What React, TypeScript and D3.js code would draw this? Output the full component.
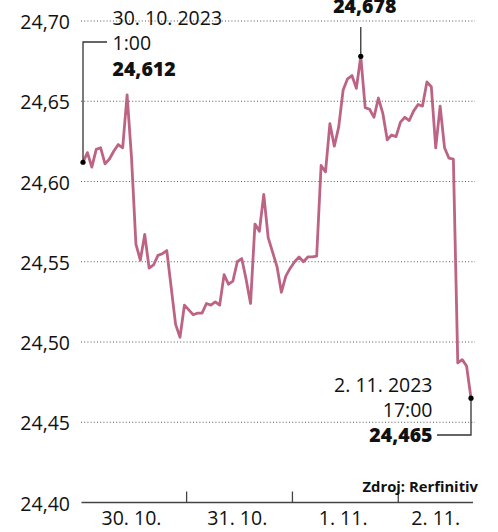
import React from 'react';
import * as d3 from 'd3';

// hourly EUR/CZK rate, 30. 10. 2023 1:00 -> 2. 11. 2023 17:00
const rates = [
  24.612, 24.618, 24.609, 24.620, 24.621, 24.611, 24.614, 24.619, 24.623, 24.621,
  24.654, 24.615, 24.561, 24.551, 24.567, 24.546, 24.548, 24.554, 24.555, 24.557,
  24.534, 24.511, 24.503, 24.523, 24.520, 24.517, 24.518, 24.518, 24.524, 24.523,
  24.525, 24.523, 24.542, 24.536, 24.538, 24.550, 24.552, 24.539, 24.524, 24.5735,
  24.569, 24.592, 24.565, 24.556, 24.547, 24.531, 24.541, 24.546, 24.550, 24.553,
  24.550, 24.553, 24.553, 24.5535, 24.610, 24.606, 24.636, 24.622, 24.634, 24.657,
  24.664, 24.666, 24.658, 24.678, 24.646, 24.645, 24.640, 24.652, 24.6425, 24.626,
  24.629, 24.628, 24.637, 24.640, 24.638, 24.644, 24.648, 24.647, 24.662, 24.659,
  24.621, 24.647, 24.621, 24.6145, 24.614, 24.487, 24.489, 24.485, 24.465,
];
const hours = rates.map((_, i) => i + 1);

const yTicks = [24.4, 24.45, 24.5, 24.55, 24.6, 24.65, 24.7];
const dayLabels = ['30. 10.', '31. 10.', '1. 11.', '2. 11.'];
const dayStarts = [1, 25, 49, 73];
const dayBreaks = [24.5, 48.5, 72.5];

const startLabel = ['30. 10. 2023', '1:00', '24,612'];
const peakLabel = '24,678';
const endLabel = ['2. 11. 2023', '17:00', '24,465'];
const source = 'Zdroj: Rerfinitiv';

const FONT = '"Open Sans", sans-serif';
const LINE = '#bd6384';
const INK = '#111';
const fmt = (v: number) => d3.format('.2f')(v).replace('.', ',');

export default function App() {
  const x = d3.scaleLinear().domain([1, 89]).range([83, 471]);
  const y = d3.scaleLinear().domain([24.4, 24.7]).range([502.5, 21]);

  const line = d3.line<number>()
    .x((_, i) => x(hours[i]))
    .y(d => y(d))
    .curve(d3.curveLinear);

  const last = rates.length - 1;
  const peakIdx = d3.maxIndex(rates);
  const sx = x(hours[0]), sy = y(rates[0]);
  const px = x(hours[peakIdx]), py = y(rates[peakIdx]);
  const ex = x(hours[last]), ey = y(rates[last]);

  return (
    <svg width={498} height={532} style={{ position: 'absolute', left: 0, top: 0 }} fontFamily={FONT}>
      <rect width={498} height={532} fill="#fff" />

      {/* grid */}
      {yTicks.slice(1).map(t => (
        <line key={t} x1={81} x2={475} y1={y(t)} y2={y(t)}
          stroke="#555" strokeWidth={1} strokeDasharray="1 2.2" />
      ))}
      {yTicks.map(t => (
        <text key={'l' + t} x={70} y={y(t) + 8} textAnchor="end" fontSize={19.5} fill={INK}>{fmt(t)}</text>
      ))}

      {/* x axis */}
      <line x1={81.5} x2={473} y1={y(24.4)} y2={y(24.4)} stroke="#444" strokeWidth={1.5} />
      {dayBreaks.map(h => (
        <line key={h} x1={x(h)} x2={x(h)} y1={y(24.4)} y2={y(24.4) - 11} stroke="#444" strokeWidth={1.3} />
      ))}
      {dayLabels.map((d, i) => {
        const s = dayStarts[i];
        const e = i < dayStarts.length - 1 ? dayStarts[i + 1] - 1 : hours[last];
        const mid = e - s >= 23 ? s + 11 : (s + e) / 2;
        return (
          <text key={d} x={x(mid)} y={525} textAnchor="middle" fontSize={19.5} fill={INK}>{d}</text>
        );
      })}

      <text x={478} y={492} textAnchor="end" fontSize={14.8} fontWeight={700} fill={INK}>{source}</text>

      {/* series */}
      <path d={line(rates) ?? ''} fill="none" stroke={LINE} strokeWidth={2.8} strokeLinejoin="round" />

      {/* start annotation */}
      <polyline points={`${sx},${sy} ${sx},42 107,42`} fill="none" stroke="#333" strokeWidth={1.3} />
      <circle cx={sx} cy={sy} r={2.6} fill="#000" />
      <text x={112.5} y={25} fontSize={19.5} fill={INK}>{startLabel[0]}</text>
      <text x={112.5} y={50} fontSize={19.5} fill={INK}>{startLabel[1]}</text>
      <text x={112.5} y={76} fontSize={19.5} fontWeight={800} fill={INK}>{startLabel[2]}</text>

      {/* peak annotation */}
      <line x1={px} x2={px} y1={27} y2={py} stroke="#333" strokeWidth={1.3} />
      <circle cx={px} cy={py} r={2.6} fill="#000" />
      <text x={px + 4} y={13} textAnchor="middle" fontSize={19.5} fontWeight={800} fill={INK}>{peakLabel}</text>

      {/* end annotation */}
      <polyline points={`${ex},${ey} ${ex},435 437,435`} fill="none" stroke="#333" strokeWidth={1.3} />
      <circle cx={ex} cy={ey} r={2.6} fill="#000" />
      <text x={432.5} y={392} textAnchor="end" fontSize={19.5} fill={INK}>{endLabel[0]}</text>
      <text x={432.5} y={417} textAnchor="end" fontSize={19.5} fill={INK}>{endLabel[1]}</text>
      <text x={432.5} y={442} textAnchor="end" fontSize={19.5} fontWeight={800} fill={INK}>{endLabel[2]}</text>
    </svg>
  );
}
